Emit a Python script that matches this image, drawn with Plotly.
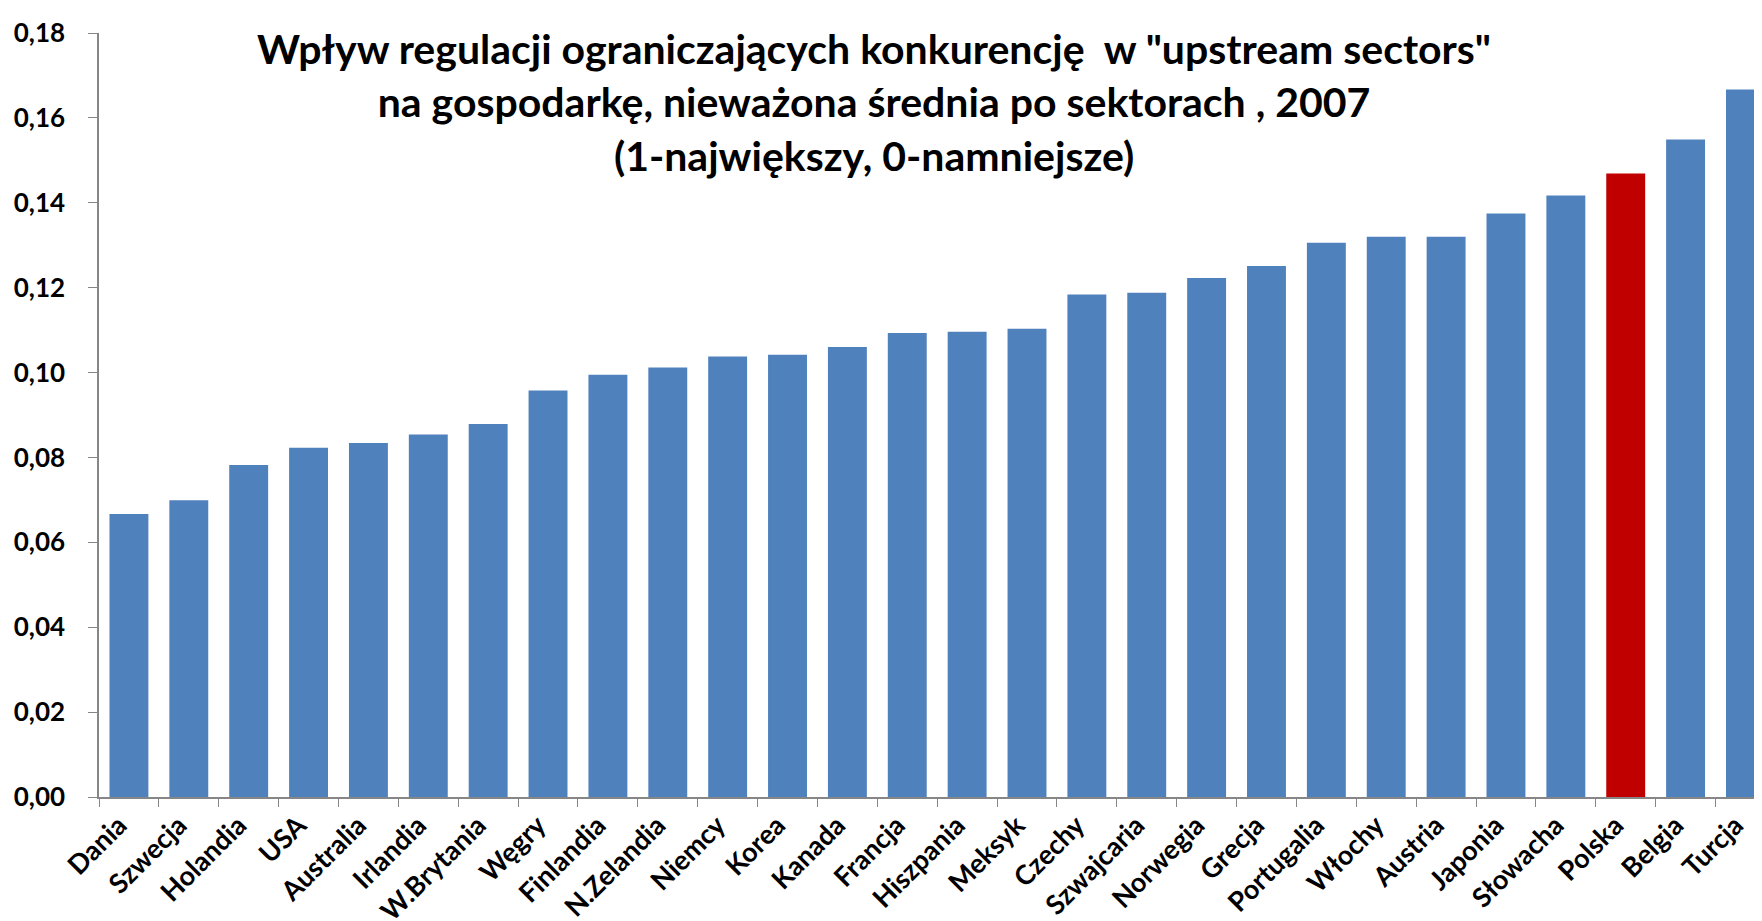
import plotly.graph_objects as go

countries = ["Dania", "Szwecja", "Holandia", "USA", "Australia", "Irlandia", "W.Brytania",
             "Węgry", "Finlandia", "N.Zelandia", "Niemcy", "Korea", "Kanada", "Francja",
             "Hiszpania", "Meksyk", "Czechy", "Szwajcaria", "Norwegia", "Grecja",
             "Portugalia", "Włochy", "Austria", "Japonia", "Słowacha", "Polska", "Belgia", "Turcja"]
values = [0.0667, 0.0699, 0.0782, 0.0823, 0.0834, 0.0854, 0.0879,
          0.0958, 0.0995, 0.1012, 0.1038, 0.1042, 0.1060, 0.1093,
          0.1096, 0.1103, 0.1184, 0.1188, 0.1223, 0.1251,
          0.1306, 0.1320, 0.1320, 0.1375, 0.1417, 0.1469, 0.1549, 0.1667]
highlight = "Polska"

BLUE = "#4F81BD"
RED = "#C00000"
colors = [RED if c == highlight else BLUE for c in countries]

title_text = ("Wpływ regulacji ograniczających konkurencję  w \"upstream sectors\"<br>"
              "na gospodarkę, nieważona średnia po sektorach , 2007<br>"
              "(1-największy, 0-namniejsze)")

fig = go.Figure(go.Bar(x=countries, y=values, marker_color=colors, marker_line_width=0))

W, H = 1762, 921
L, T, B = 91, 25, 132
fig.update_layout(
    width=W, height=H,
    margin=dict(l=L, r=0, t=T, b=B),
    paper_bgcolor="white", plot_bgcolor="white",
    bargap=0.35,
    separators=", ",
    showlegend=False,
    font=dict(family="Lato", color="#000000"),
)
fig.add_annotation(
    text=title_text, xref="paper", yref="paper",
    x=(866 - L) / (W - L), y=1 + 11 / (H - T - B), xanchor="center", yanchor="top",
    showarrow=False, align="center",
    font=dict(family="Lato", size=41, color="#000000", weight="bold"),
)
fig.update_xaxes(
    range=[-0.5, 27.41],
    showline=True, linecolor="#868686", linewidth=1.5,
    ticks="outside", ticklen=8, tickcolor="#868686", tickson="boundaries",
    tickangle=-45, showgrid=False, ticklabelstandoff=0, ticklabelshift=-10,
    tickfont=dict(family="Lato", size=27, color="#000000", weight="bold"),
)
fig.update_yaxes(
    range=[0, 0.18], dtick=0.02, tickformat=".2f",
    showline=True, linecolor="#868686", linewidth=1.5,
    ticks="outside", ticklen=9, tickcolor="#868686",
    showgrid=False, zeroline=False, ticklabelstandoff=18,
    tickfont=dict(family="Lato", size=26, color="#000000", weight="bold"),
)

fig.write_html("out.html")
